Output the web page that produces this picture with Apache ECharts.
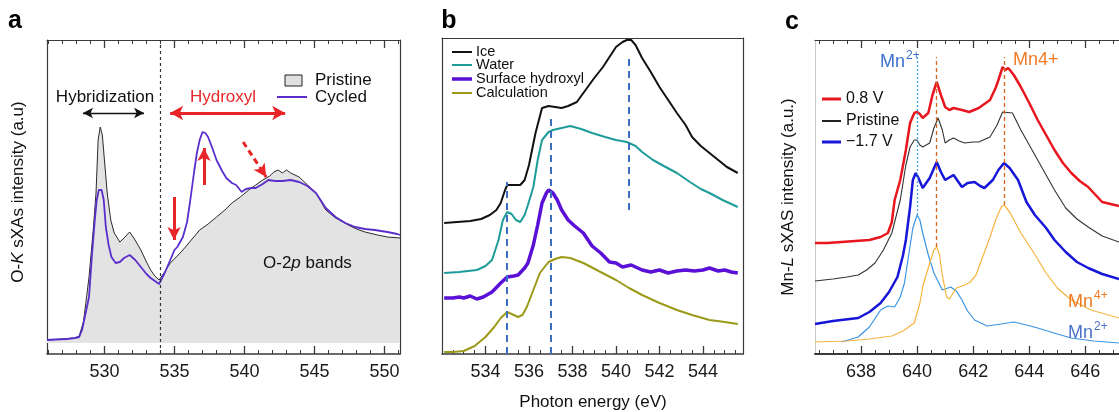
<!DOCTYPE html>
<html><head><meta charset="utf-8">
<script src="https://cdn.jsdelivr.net/npm/echarts@6/dist/echarts.min.js"></script>
<style>html,body{margin:0;padding:0;background:#fff}#c{width:1119px;height:412px}</style>
</head><body><div id="c"></div>
<script>
const FONT = '"Liberation Sans", Arial, Helvetica, sans-serif';

// ---------- Panel a : O-K sXAS (photon energy eV, intensity a.u.) ----------
const aPristine = [[525.9,14],[527.0,15],[527.9,16],[528.2,18],[528.5,32],[528.7,54],[528.9,77],[529.2,124],[529.4,161],[529.55,214],[529.7,227],[529.85,219],[530.0,194],[530.2,161],[530.45,134],[530.7,121],[531.1,112],[531.4,116],[531.8,122],[532.1,116],[532.6,104],[533.0,92],[533.3,84],[533.6,78],[533.9,74],[534.0,73],[534.3,82],[534.7,91],[535.2,98],[535.6,104],[536.2,114],[536.8,124],[537.4,130],[538.0,137],[538.6,144],[539.1,151],[539.7,157],[540.3,164],[540.8,169],[541.3,174],[541.8,178],[542.1,182],[542.4,184],[542.7,181],[543.0,184],[543.3,181],[543.9,177],[544.5,169],[545.1,161],[545.8,144],[546.5,136],[547.4,129],[548.0,125],[548.6,122],[549.5,119],[550.2,117],[551.1,116]];
const aCycled = [[525.9,14],[526.5,14.5],[527.3,15],[527.9,16],[528.2,17],[528.4,24],[528.6,37],[528.9,57],[529.1,97],[529.3,132],[529.45,154],[529.6,164],[529.8,164],[529.95,154],[530.1,127],[530.3,109],[530.5,97],[530.8,91],[531.1,92],[531.4,96],[531.8,99],[532.2,94],[532.6,87],[533.0,80],[533.3,76],[533.6,73],[533.9,70],[534.0,70],[534.3,81],[534.7,94],[535.0,104],[535.2,107],[535.6,117],[535.9,132],[536.1,151],[536.4,182],[536.6,201],[536.8,214],[537.0,222],[537.2,221],[537.4,217],[537.7,206],[538.0,194],[538.4,183],[538.7,176],[539.1,171],[539.4,169],[539.8,162],[540.1,165],[540.5,166],[540.8,166],[541.3,170],[541.7,174],[542.2,173],[542.7,173],[543.3,174],[543.9,172],[544.5,168],[545.1,161],[545.8,146],[546.5,137],[547.2,131],[547.9,127],[548.6,125],[549.3,124],[550.2,122],[550.9,120],[551.1,119]];
const aMajorTicks = [530,535,540,545,550];
const aMinorTicks = [526,527,528,529,531,532,533,534,536,537,538,539,541,542,543,544,546,547,548,549,551];

// ---------- Panel b ----------
const bIce = [[532.1,131],[532.7,132],[533.3,133],[533.8,135],[534.2,139],[534.5,144],[534.7,151],[534.9,164],[535.0,169],[535.3,169],[535.6,169],[535.8,174],[536.0,189],[536.3,221],[536.6,246],[536.9,248],[537.2,247],[537.5,246],[537.8,248],[538.2,252],[538.6,264],[539.0,276],[539.4,287],[539.7,297],[540.0,307],[540.3,312],[540.5,314],[540.7,314],[540.9,309],[541.2,296],[541.6,282],[542.0,267],[542.4,254],[542.8,241],[543.2,229],[543.5,217],[543.9,208],[544.3,201],[544.7,194],[545.1,187],[545.6,181]];
const bWater = [[532.1,81],[532.8,82],[533.6,84],[534.0,88],[534.3,94],[534.6,114],[534.8,134],[535.0,142],[535.2,140],[535.4,134],[535.6,132],[535.8,139],[535.95,149],[536.2,167],[536.4,194],[536.6,214],[536.9,222],[537.1,224],[537.5,226],[537.9,228],[538.4,225],[538.9,221],[539.5,217],[540.0,214],[540.5,212],[540.9,208],[541.2,202],[541.7,194],[542.2,188],[542.8,181],[543.4,172],[543.9,165],[544.3,161],[544.9,154],[545.6,147]];
const bHydroxyl = [[532.1,56],[532.5,56],[532.8,57],[533.0,56],[533.3,58],[533.6,55],[533.9,57],[534.3,62],[534.7,71],[535.0,77],[535.3,78],[535.5,79],[535.8,86],[535.95,91],[536.2,109],[536.4,129],[536.6,151],[536.8,161],[536.9,164],[537.1,161],[537.3,154],[537.5,144],[537.8,134],[538.1,128],[538.5,121],[538.9,108],[539.3,101],[539.7,92],[540.0,91],[540.3,87],[540.7,89],[541.2,84],[541.6,82],[542.0,84],[542.4,81],[542.8,83],[543.2,84],[543.6,83],[544.0,84],[544.3,86],[544.7,83],[545.0,84],[545.3,82],[545.6,81]];
const bCalc = [[532.1,2],[532.5,2],[533.0,3],[533.5,8],[534.0,17],[534.4,27],[534.7,36],[535.0,42],[535.3,39],[535.5,37],[535.7,39],[535.9,47],[536.2,64],[536.5,81],[536.9,92],[537.2,95],[537.5,97],[537.9,96],[538.5,91],[539.2,83],[540.0,74],[540.6,66],[541.2,59],[542.0,51],[542.8,44],[543.5,39],[544.3,34],[545.0,32],[545.6,30]];
const bMajorTicks = [534,536,538,540,542,544];
const bMinorTicks = [532.5,533,533.5,534.5,535,535.5,536.5,537,537.5,538.5,539,539.5,540.5,541,541.5,542.5,543,543.5,544.5,545,545.5];
const bNames = ['Ice','Water','Surface hydroxyl','Calculation'];

// ---------- Panel c ----------
const c08V = [[636.36,111],[636.8,111],[637.3,112],[637.8,113],[638.3,114],[638.7,117],[638.96,121],[639.1,132],[639.2,154],[639.3,164],[639.4,174],[639.6,204],[639.75,231],[639.9,241],[640.0,242],[640.1,240],[640.2,236],[640.4,241],[640.55,259],[640.7,272],[640.85,259],[641.0,247],[641.15,244],[641.3,246],[641.6,244],[641.86,242],[642.2,246],[642.6,254],[642.8,266],[642.9,274],[643.05,287],[643.15,284],[643.25,286],[643.45,279],[643.7,267],[644.0,251],[644.3,234],[644.6,219],[644.9,204],[645.2,191],[645.5,181],[645.8,173],[646.1,167],[646.4,158],[646.6,152],[647.2,148]];
const cPristine = [[636.36,73],[637.0,75],[637.5,77],[637.9,79],[638.2,84],[638.5,91],[638.8,104],[639.1,121],[639.4,154],[639.6,189],[639.75,207],[639.9,214],[640.0,214],[640.1,209],[640.2,207],[640.45,211],[640.6,226],[640.75,236],[640.9,224],[641.0,211],[641.15,214],[641.3,216],[641.5,213],[641.7,211],[642.0,212],[642.2,212],[642.6,217],[642.85,229],[643.05,242],[643.4,241],[643.7,224],[644.0,209],[644.3,194],[644.6,179],[644.9,164],[645.3,146],[645.7,135],[646.1,127],[646.6,118],[647.2,112]];
const cMinus17V = [[636.36,30],[637.0,33],[637.9,36],[638.3,42],[638.7,51],[639.0,62],[639.3,77],[639.5,99],[639.6,114],[639.75,147],[639.85,174],[639.95,181],[640.05,176],[640.2,166],[640.45,176],[640.7,192],[640.85,182],[641.0,174],[641.3,179],[641.6,167],[641.8,171],[642.05,172],[642.25,168],[642.4,166],[642.7,174],[642.9,184],[643.1,191],[643.3,186],[643.6,174],[643.9,152],[644.2,139],[644.6,126],[644.9,114],[645.3,102],[645.7,92],[646.1,86],[646.6,80],[647.2,75]];
const cMn2Ref = [[637.3,12],[637.9,17],[638.3,27],[638.7,44],[638.96,48],[639.2,47],[639.4,57],[639.55,71],[639.7,99],[639.85,126],[640.0,139],[640.1,134],[640.2,121],[640.4,99],[640.6,81],[640.9,64],[641.2,67],[641.4,63],[641.6,54],[641.8,43],[642.05,34],[642.5,28],[643.0,30],[643.45,32],[643.9,29],[644.3,26],[645.0,20],[645.5,16],[646.3,13],[647.2,11]];
const cMn4Ref = [[636.36,12],[637.5,13],[638.3,15],[639.1,18],[639.5,23],[639.9,31],[640.1,51],[640.2,67],[640.45,91],[640.6,104],[640.7,107],[640.8,99],[640.9,79],[641.05,57],[641.15,55],[641.4,66],[641.7,69],[641.9,72],[642.1,79],[642.3,94],[642.6,117],[642.8,134],[643.0,147],[643.1,149],[643.3,142],[643.7,121],[644.1,104],[644.6,81],[645.0,66],[645.5,54],[646.2,44],[647.2,36]];
const cMajorTicks = [638,640,642,644,646];
const cMinorTicks = [636.5,637,637.5,638.5,639,639.5,640.5,641,641.5,642.5,643,643.5,644.5,645,645.5,646.5,647];
const cNames = ['0.8 V','Pristine','\u22121.7 V'];

// ---------- helpers ----------
const AX = '#3a3a3a';
function xPair(gi, min, max, major, minor, pos, showLabel, color, lw) {
  return [
    {type:'value', gridIndex:gi, position:pos, offset:0, min:min, max:max,
     axisLine:{show:true, onZero:false, lineStyle:{color:color, width:lw}},
     axisTick:{show:true, inside:true, length:8, customValues:major, lineStyle:{color:color, width:1.3}},
     axisLabel:{show:showLabel, customValues:major, margin:9, fontFamily:FONT, fontSize:18, color:'#1a1a1a'},
     splitLine:{show:false}},
    {type:'value', gridIndex:gi, position:pos, offset:0, min:min, max:max,
     axisLine:{show:false, onZero:false},
     axisTick:{show:true, inside:true, length:4, customValues:minor, lineStyle:{color:color, width:1}},
     axisLabel:{show:false}, splitLine:{show:false}}
  ];
}
function yAx(gi, max, pos, color, lw) {
  return {type:'value', gridIndex:gi, position:pos, min:0, max:max,
    axisLine:{show:true, onZero:false, lineStyle:{color:color, width:lw}},
    axisTick:{show:false}, axisLabel:{show:false}, splitLine:{show:false}};
}
function ln(name, data, xi, yi, color, width, extra) {
  return Object.assign({type:'line', name:name, data:data, xAxisIndex:xi, yAxisIndex:yi,
    showSymbol:false, symbol:'none', animation:false, silent:true,
    lineStyle:{color:color, width:width}, itemStyle:{color:color}}, extra||{});
}
function seg(x1,y1,x2,y2,style,s1,s2,size) {
  return [{coord:[x1,y1], lineStyle:style, symbol:s1||'none', symbolSize:size||8},
          {coord:[x2,y2], symbol:s2||'none', symbolSize:size||8}];
}
const RED = '#e8262a';

const xAxes = [].concat(
  xPair(0, 525.9, 551.1, aMajorTicks, aMinorTicks, 'bottom', true, AX, 1.5),
  xPair(0, 525.9, 551.1, aMajorTicks, aMinorTicks, 'top', false, AX, 1.2),
  xPair(1, 532, 545.84, bMajorTicks, bMinorTicks, 'bottom', true, AX, 1.5),
  [{type:'value', gridIndex:1, position:'top', min:532, max:545.84,
    axisLine:{show:true, onZero:false, lineStyle:{color:AX, width:1.2}}, axisTick:{show:false}, axisLabel:{show:false}, splitLine:{show:false}}],
  xPair(2, 636.36, 647.2, cMajorTicks, cMinorTicks, 'bottom', true, AX, 2),
  xPair(2, 636.36, 647.2, cMajorTicks, cMinorTicks, 'top', false, AX, 1.2)
);
const yAxes = [yAx(0,314,'left',AX,1.2), yAx(0,314,'right',AX,1.2),
               yAx(1,316,'left',AX,1.2), yAx(1,316,'right',AX,1.2),
               yAx(2,314,'left','#c8c8c8',1)];

const series = [
  ln('Pristine', aPristine, 0, 0, '#2a2a2a', 1, {areaStyle:{color:'#e3e3e3', opacity:1, origin:11}}),
  ln('Cycled', aCycled, 0, 0, '#5b2ecc', 1.8, {markLine:{silent:true, animation:false, label:{show:false}, symbol:['none','none'], data:[
    seg(534.0,0,534.0,314,{color:'#333', type:[3,3], width:1.2}),
    seg(528.47,241,532.83,241,{color:'#111', type:'solid', width:1.4},'arrow','arrow',[8,10]),
    seg(534.69,241,542.9,241,{color:RED, type:'solid', width:3},'arrow','arrow',[11,13]),
    seg(537.11,169,537.11,206,{color:RED, type:'solid', width:3},'none','arrow',[10,13]),
    seg(534.97,157,534.97,114,{color:RED, type:'solid', width:3},'none','arrow',[10,13]),
    seg(539.9,212,541.55,177,{color:RED, type:[6,4], width:3},'none','arrow',[10,13])
  ]}}),
  ln(bNames[0], bIce, 4, 2, '#111111', 2, {markLine:{silent:true, animation:false, label:{show:false}, symbol:['none','none'], data:[
    seg(535.0,0,535.0,172,{color:'#3c6fbf', type:[7,5], width:2}),
    seg(537.0,0,537.0,239,{color:'#3c6fbf', type:[7,5], width:2}),
    seg(540.6,144,540.6,299,{color:'#3c6fbf', type:[7,5], width:2})
  ]}}),
  ln(bNames[1], bWater, 4, 2, '#1d9c9a', 2),
  ln(bNames[2], bHydroxyl, 4, 2, '#5a10d6', 3.5),
  ln(bNames[3], bCalc, 4, 2, '#9b9a18', 2),
  ln('Mn2+ ref', cMn2Ref, 7, 4, '#3b95e2', 1.2, {markLine:{silent:true, animation:false, label:{show:false}, symbol:['none','none'], data:[
    seg(640.0,139,640.0,297,{color:'#4aa3e6', type:[2,2], width:1.4}),
    seg(640.7,107,640.7,297,{color:'#d9641e', type:[4,3], width:1.3}),
    seg(643.1,149,643.1,297,{color:'#d9641e', type:[4,3], width:1.3})
  ]}}),
  ln('Mn4+ ref', cMn4Ref, 7, 4, '#f5b540', 1.2),
  ln(cNames[2], cMinus17V, 7, 4, '#1616d8', 2.5),
  ln(cNames[1], cPristine, 7, 4, '#333333', 1.1),
  ln(cNames[0], c08V, 7, 4, '#e8161e', 2.5)
];

function T(x, y, text, o) {
  o = o || {};
  return {type:'text', x:x, y:y, rotation:o.rot||0, silent:true, z:100,
    style:{text:text, fill:o.color||'#111', fontFamily:FONT, fontSize:o.size||17,
      fontWeight:o.weight||'normal', textAlign:o.align||'left', align:o.align||'left',
      textVerticalAlign:'middle', verticalAlign:'middle', rich:o.rich||undefined}};
}
function L(x1,y1,x2,y2,color,w) {
  return {type:'line', silent:true, z:100, shape:{x1:x1,y1:y1,x2:x2,y2:y2}, style:{stroke:color, lineWidth:w}};
}
const ital = {i:{fontStyle:'italic', fontFamily:FONT, fontSize:17}};
const graphic = [
  T(15,21,'a',{size:25, weight:'bold', align:'center', color:'#000'}),
  T(449,21,'b',{size:25, weight:'bold', align:'center', color:'#000'}),
  T(792,22,'c',{size:25, weight:'bold', align:'center', color:'#000'}),
  T(18,192,'O-{i|K} sXAs intensity (a.u)',{align:'center', rot:Math.PI/2, rich:ital}),
  T(788,197,'Mn-{i|L} sXAS intensity (a.u.)',{align:'center', rot:Math.PI/2, rich:ital}),
  T(593,402,'Photon energy (eV)',{align:'center'}),
  T(105,97,'Hybridization',{align:'center'}),
  T(223,97,'Hydroxyl',{align:'center', color:RED}),
  {type:'rect', silent:true, z:100, shape:{x:285,y:75,width:17,height:11}, style:{fill:'#e0e0e0', stroke:'#222', lineWidth:1}},
  T(315,80,'Pristine'),
  L(277,97,307,97,'#5b2ecc',2),
  T(315,97,'Cycled'),
  T(263,263,'O-2{i|p} bands',{rich:ital}),
  // panel b legend
  L(452,52,472,52,'#111',2), T(476,52,bNames[0],{size:14.5}),
  L(452,65,472,65,'#1d9c9a',2), T(476,65,bNames[1],{size:14.5}),
  L(452,79,472,79,'#5a10d6',3.5), T(476,79,bNames[2],{size:14.5}),
  L(452,93,472,93,'#9b9a18',2), T(476,93,bNames[3],{size:14.5}),
  // panel c legend
  L(822,99,841,99,'#e8161e',3), T(846,99,cNames[0],{size:16}),
  L(822,121,841,121,'#222',2), T(846,121,cNames[1],{size:16}),
  L(822,142,841,142,'#1616d8',3), T(846,142,cNames[2],{size:16}),
  // panel c labels
  T(880,62,'Mn',{size:18, color:'#3d6fcf'}), T(906,56,'2+',{size:12, color:'#3d6fcf'}),
  T(1013,60,'Mn4+',{size:18, color:'#f07a22'}),
  T(1068,302,'Mn',{size:18, color:'#f07a22'}), T(1094,296,'4+',{size:12, color:'#f07a22'}),
  T(1068,333,'Mn',{size:18, color:'#4a72c8'}), T(1094,327,'2+',{size:12, color:'#4a72c8'})
];

const chart = echarts.init(document.getElementById('c'), null, {renderer:'canvas'});
chart.setOption({
  animation:false,
  backgroundColor:'#ffffff',
  grid:[{left:47, top:40, width:353, height:314},
        {left:442, top:38, width:301, height:316},
        {left:815, top:40, width:312, height:314}],
  xAxis:xAxes, yAxis:yAxes, series:series, graphic:graphic
});
</script></body></html>
